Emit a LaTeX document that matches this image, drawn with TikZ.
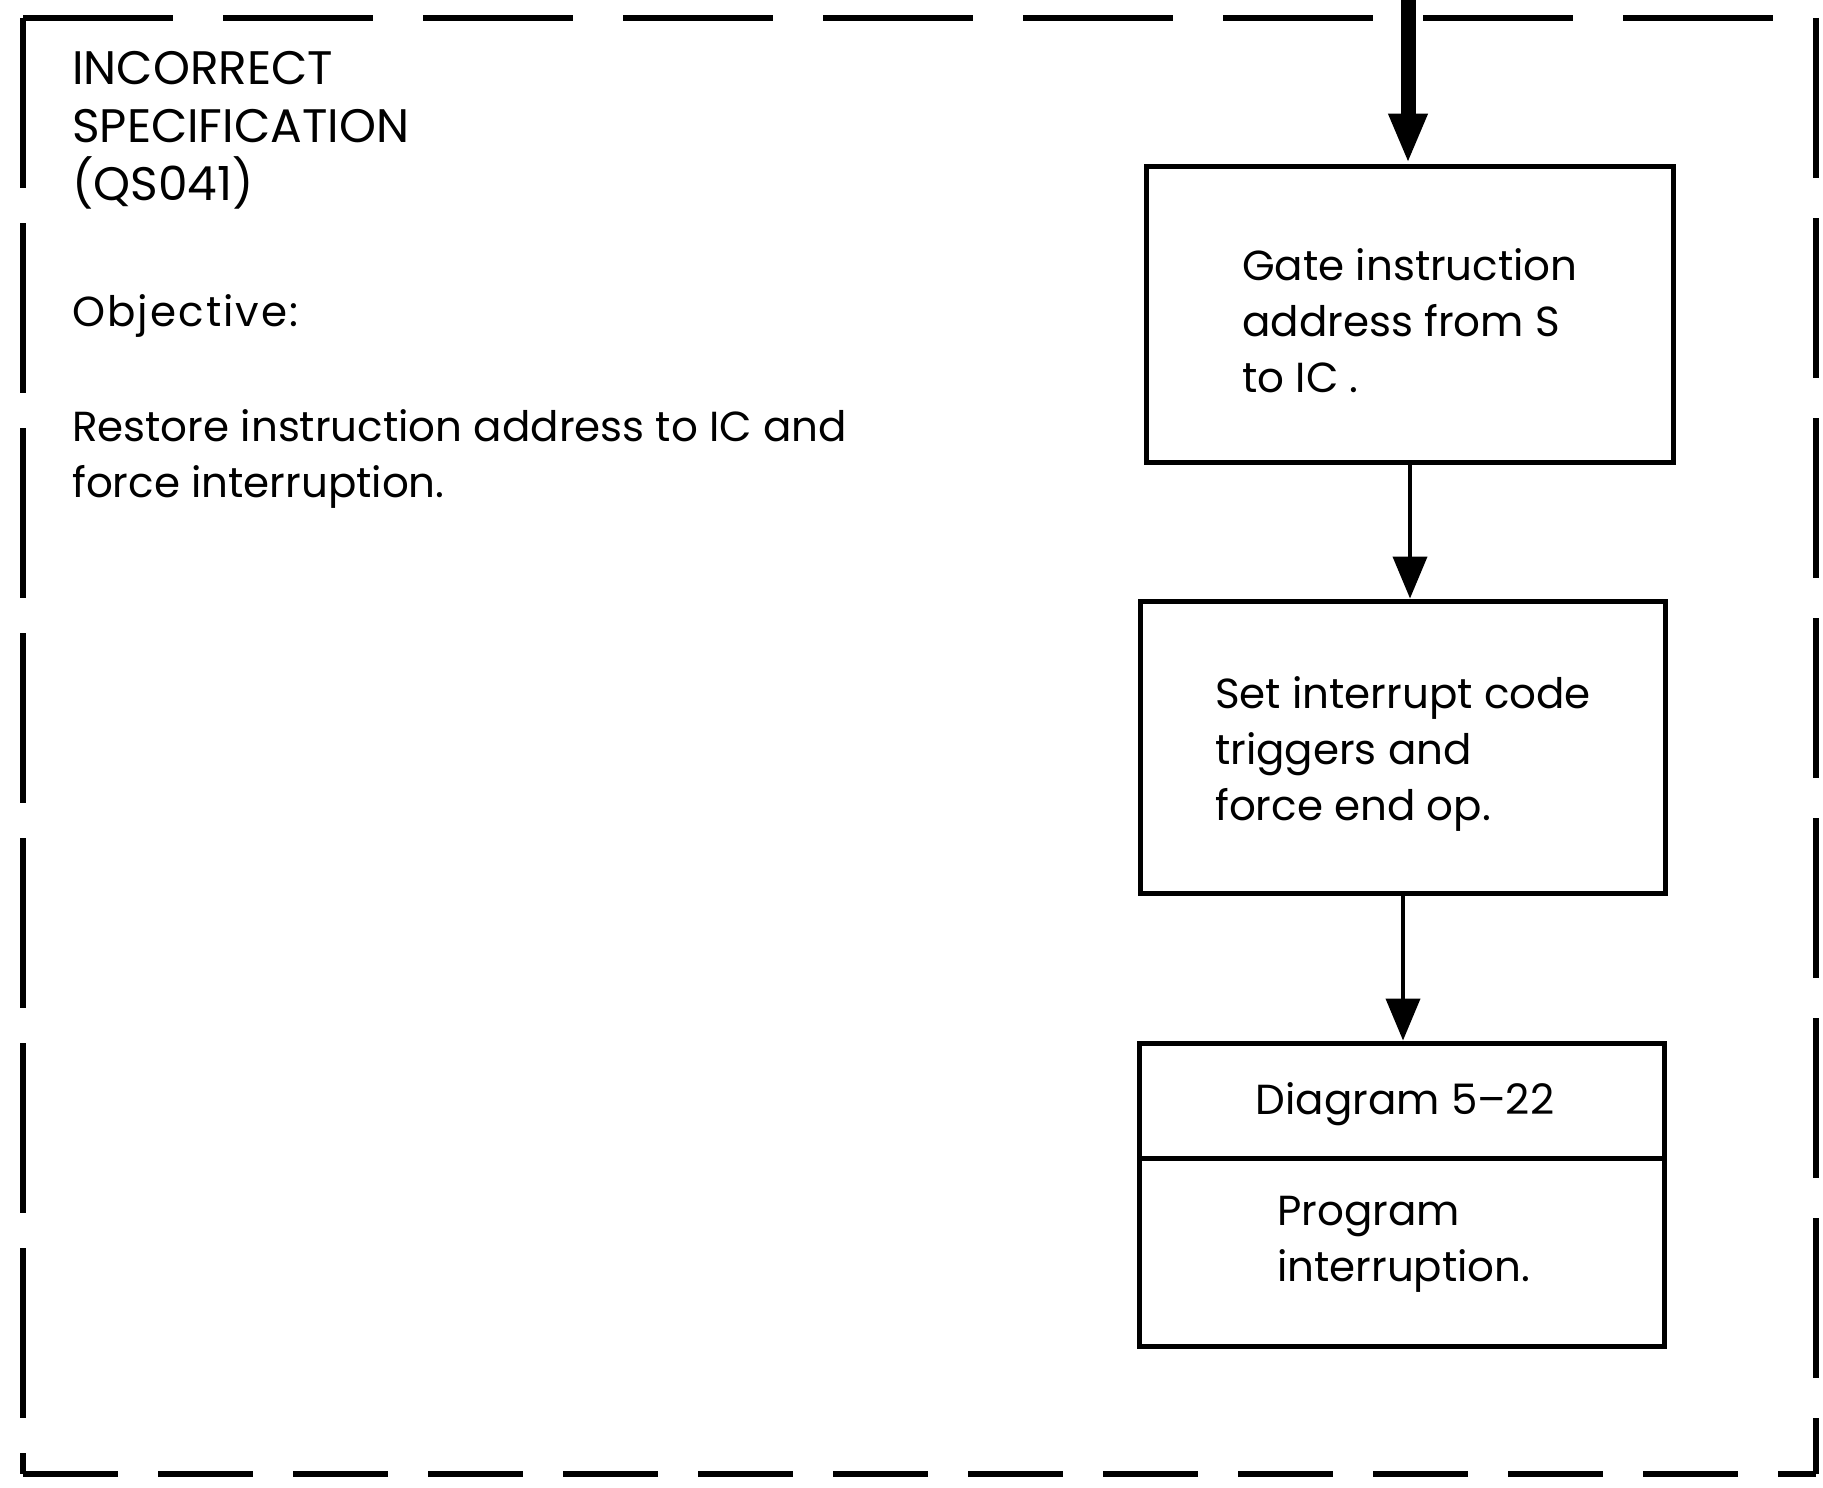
\documentclass[tikz,border=0pt]{standalone}
\usepackage{fontspec}
\setmainfont{Poppins}
\usetikzlibrary{arrows.meta}
\newcommand\tfont{\fontsize{42}{56}\selectfont}
\newcommand\hfont{\fontsize{47}{58}\selectfont}
\begin{document}
\begin{tikzpicture}[x=1pt,y=-1pt,
  txt/.style={inner sep=0pt, font=\tfont, align=left},
  procbox/.style={draw, line width=5pt, inner sep=0pt},
  frameline/.style={line width=6pt},
  flow/.style={line width=4pt, -{Triangle[length=42pt,width=34pt]}},
  mainflow/.style={line width=15pt, -{Triangle[length=50pt,width=36pt]}}]
\useasboundingbox (0,0) rectangle (1823,1488);
% dashed frame
\draw[frameline, dash pattern=on 150pt off 50pt] (23,18) -- (1816,18);
\draw[frameline, dash pattern=on 95pt off 40pt] (23,1474) -- (1816,1474);
\draw[frameline, dash pattern=on 170pt off 35pt] (23,18) -- (23,1474);
\draw[frameline, dash pattern=on 160pt off 40pt] (1816,18) -- (1816,1474);
% left text
\node[txt, font=\hfont, anchor=north west] (title) at (72,51) {INCORRECT\\SPECIFICATION\\(QS041)};
\node[txt, font=\tfont\addfontfeature{LetterSpace=5}, anchor=base west] (objective) at (72,326) {Objective:};
\node[txt, anchor=north west] (desc) at (72,409) {Restore instruction address to IC and\\force interruption.};
% boxes
\node[procbox, minimum width=527pt, minimum height=296pt] (gate) at (1410,314) {};
\node[txt] (gatetext) at ([yshift=-7pt]gate.center) {Gate instruction\\address from S\\to IC .};
\node[procbox, minimum width=525pt, minimum height=292pt] (setint) at (1403,747) {};
\node[txt] (setinttext) at ([yshift=-7pt]setint.center) {Set interrupt code\\triggers and\\force end op.};
\node[procbox, minimum width=525pt, minimum height=303pt] (diag) at (1402,1194.5) {};
\draw[line width=5pt] (diag.west |- 0,1158) -- (diag.east |- 0,1158);
\node[txt, anchor=base] (diagtitle) at (1405,1114) {Diagram 5--22};
\node[txt, anchor=north west] (diagtext) at (1277,1196) {Program\\interruption.};
% connectors
\coordinate (entry) at (1408,0);
\draw[mainflow] (entry) -- (entry |- gate.north);
\draw[flow] (gate.south) -- (gate.south |- setint.north);
\draw[flow] (setint.south) -- (setint.south |- diag.north);
\end{tikzpicture}
\end{document}
